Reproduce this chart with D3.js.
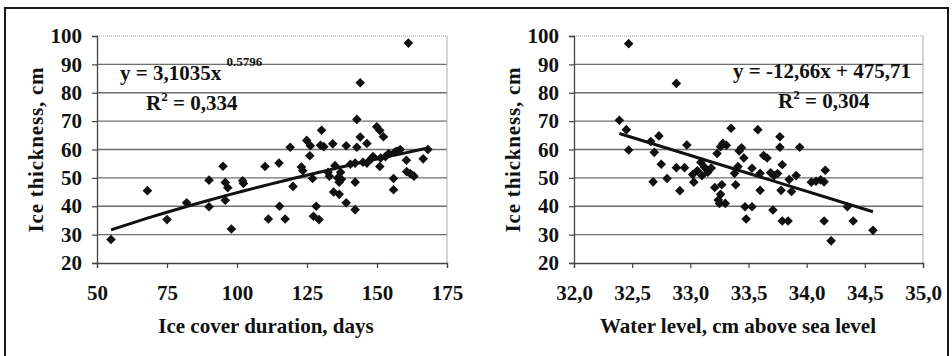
<!DOCTYPE html>
<html><head><meta charset="utf-8">
<script src="https://cdn.jsdelivr.net/npm/d3@7"></script>
<style>
html,body{margin:0;padding:0;background:#fff;}
svg{display:block;}
svg text{font-family:"Liberation Serif","DejaVu Serif","Times New Roman",Times,serif !important;font-weight:bold;fill:#111;}
</style></head><body>
<svg id="c" width="952" height="356"></svg>
<script>
// ---- data ----
const durationDays = [55,68,75,82,90,90,95,95.8,96.7,95.8,98,102,102.3,110,111.2,115,115.2,117.2,119,120,123,123.5,124.9,126.2,126,127,127.3,128.3,129.3,130.2,129.8,131,132.5,133,134.2,134.5,135,136,136.5,137,137.3,136.5,139,139,142.2,142.2,142.8,142.8,144,144,142.2,146.4,146.4,148.6,149.9,151,152.3,151,151.3,154.2,155.9,155.9,157.2,158.3,160.5,160.6,161.9,163.2,161.2,166.5,168.2,140.5,145,148,153,156.5];
const durationThickness = [28.3,45.5,35.3,41.2,49.2,39.8,54.1,48.4,46.5,42.1,32,49,48,54,35.5,55.2,40,35.5,60.8,47,53.8,52.5,63.2,61.3,57.8,49.8,36.5,40,35.3,66.8,61.5,61,52,50.6,62,45,54.3,50,48.5,52,49.5,44.2,41.2,61.3,48.5,38.8,70.6,60.8,83.5,64.4,55.2,62.1,55.2,57.5,68,66.7,64.5,54,57,58.6,49.8,45.8,59.4,60,56.2,52.2,51.5,50.6,97.5,56.7,60,54.8,55.5,56.8,57.5,59.2];

const waterLevel = [32.47,32.88,32.39,32.45,32.47,32.66,32.69,32.73,32.75,32.68,32.80,32.88,32.91,32.95,32.97,33.02,33.03,33.06,33.09,33.1,33.12,33.15,33.18,33.21,33.24,33.25,33.27,33.26,33.3,33.23,33.26,33.28,33.31,33.35,33.38,33.39,33.41,33.42,33.44,33.46,33.47,33.48,33.53,33.53,33.58,33.6,33.6,33.63,33.66,33.69,33.71,33.72,33.75,33.77,33.77,33.79,33.78,33.79,33.84,33.85,33.87,33.91,33.94,34.04,34.08,34.12,34.15,34.16,34.15,34.21,34.35,34.4,34.57];
const waterThickness = [97.3,83.3,70.3,67,59.8,62.8,59,64.8,54.8,48.6,49.8,53.6,45.5,53.6,61.6,51.2,48.5,52.5,55.5,50.8,53.8,52,53.5,46.6,42.2,41,47.6,44.2,41,58.6,61,62.2,61.5,67.5,51.6,47.6,54,59.5,60.6,57,39.8,35.5,53.4,39.8,67,51.6,45.6,57.9,57,51.8,38.7,50.8,51.5,64.5,60.8,54.6,45.6,34.8,34.8,49.4,45.2,50.8,60.8,48.5,48.8,49.3,48.6,52.7,34.8,27.8,39.8,34.8,31.5];

const yTicks = [20,30,40,50,60,70,80,90,100];
const xTicksLeft = [50,75,100,125,150,175];
const xTicksRight = [32.0,32.5,33.0,33.5,34.0,34.5,35.0];
const yTitle = "Ice thickness, cm";
const xTitleLeft = "Ice cover duration, days";
const xTitleRight = "Water level, cm above sea level";
const powerA = 3.1035, powerB = 0.5796;
const linSlope = -12.66, linIntercept = 475.71;

// ---- drawing ----
const FONT = '"Liberation Serif","DejaVu Serif","Times New Roman",Times,serif';
const svg = d3.select("#c");
svg.append("rect").attr("width",952).attr("height",356).attr("fill","#fff");
svg.append("path").attr("d","M5,356V8H948V356").attr("fill","none").attr("stroke","#1a1a1a").attr("stroke-width",2);

const PT = 36, PB = 263;
const y = d3.scaleLinear().domain([20,100]).range([PB,PT]);
const diamond = "M0,-4.8L4.8,0L0,4.8L-4.8,0Z";

function txt(sel){ return sel.attr("font-family",FONT).style("font-family",FONT).attr("font-weight","bold").attr("fill","#111"); }

function panel(x0, x1, domain, ticks, fmt, xs, ys, xTitle, titleX) {
  const g = svg.append("g");
  const x = d3.scaleLinear().domain(domain).range([x0,x1]);
  g.selectAll("line.grid").data(yTicks.filter(t=>t>20 && t<100)).join("line")
    .attr("x1",x0).attr("x2",x1).attr("y1",d=>y(d)).attr("y2",d=>y(d))
    .attr("stroke","#6e6e6e").attr("stroke-width",1.3);
  g.append("line").attr("x1",x0).attr("x2",x1).attr("y1",y(100)).attr("y2",y(100))
    .attr("stroke","#9a9a9a").attr("stroke-width",1).attr("stroke-dasharray","1,1");
  g.append("line").attr("x1",x1).attr("x2",x1).attr("y1",y(100)).attr("y2",y(20))
    .attr("stroke","#aaa").attr("stroke-width",1);
  const ax = d3.axisBottom(x).tickValues(ticks).tickFormat(fmt).tickSize(5).tickPadding(17);
  const axg = g.append("g").attr("transform",`translate(0,${PB})`).call(ax);
  const ay = d3.axisLeft(y).tickValues(yTicks).tickSize(5).tickPadding(10);
  const ayg = g.append("g").attr("transform",`translate(${x0},0)`).call(ay);
  [axg, ayg].forEach(a=>{
    a.attr("font-family",FONT);
    a.select(".domain").attr("stroke","#444").attr("stroke-width",1.3);
    a.selectAll(".tick line").attr("stroke","#444").attr("stroke-width",1.2);
    txt(a.selectAll("text")).attr("font-size",21);
  });
  const pts = xs.map((v,i)=>[v, ys[i]]);
  g.selectAll("path.pt").data(pts).join("path")
    .attr("d",diamond).attr("transform",d=>`translate(${x(d[0])},${y(d[1])})`).attr("fill","#111");
  txt(svg.append("text")).attr("x",titleX).attr("y",333).attr("text-anchor","middle")
    .attr("font-size",21).text(xTitle);
  txt(svg.append("text")).attr("transform",`translate(${x0-54},${y(60)}) rotate(-90)`)
    .attr("text-anchor","middle").attr("font-size",21).attr("letter-spacing",0.8).text(yTitle);
  return x;
}

const xl = panel(97, 447, [50,175], xTicksLeft, d=>d3.format("d")(d),
  durationDays, durationThickness, xTitleLeft, 266);
const xr = panel(574, 923, [32,35], xTicksRight, d=>d3.format(".1f")(d).replace(".",","),
  waterLevel, waterThickness, xTitleRight, 738);

const sortedDays = durationDays.slice().sort((a,b)=>a-b);
svg.append("path").datum(sortedDays)
  .attr("d", d3.line().x(d=>xl(d)).y(d=>y(powerA*Math.pow(d,powerB))))
  .attr("fill","none").attr("stroke","#111").attr("stroke-width",3);
const wlExtent = d3.extent(waterLevel);
svg.append("path").datum(wlExtent)
  .attr("d", d3.line().x(d=>xr(d)).y(d=>y(linSlope*d+linIntercept)))
  .attr("fill","none").attr("stroke","#111").attr("stroke-width",3);

function eq(xp, yp, parts) {
  const t = txt(svg.append("text")).attr("x",xp).attr("y",yp).attr("font-size",21);
  parts.forEach(p=>{
    const s = t.append("tspan").text(p.t);
    if (p.sup) s.attr("font-size",p.size||13).attr("dy",p.dy);
    if (p.back) s.attr("dy",p.back);
  });
}
eq(120, 80, [{t:"y = 3,1035x "},{t:"0.5796",sup:true,size:13,dy:-14}]);
eq(146, 110, [{t:"R"},{t:"2",sup:true,size:13,dy:-9},{t:" = 0,334",back:9}]);
eq(733, 78, [{t:"y = -12,66x + 475,71"}]);
eq(778, 108, [{t:"R"},{t:"2",sup:true,size:13,dy:-9},{t:" = 0,304",back:9}]);
</script>
</body></html>
